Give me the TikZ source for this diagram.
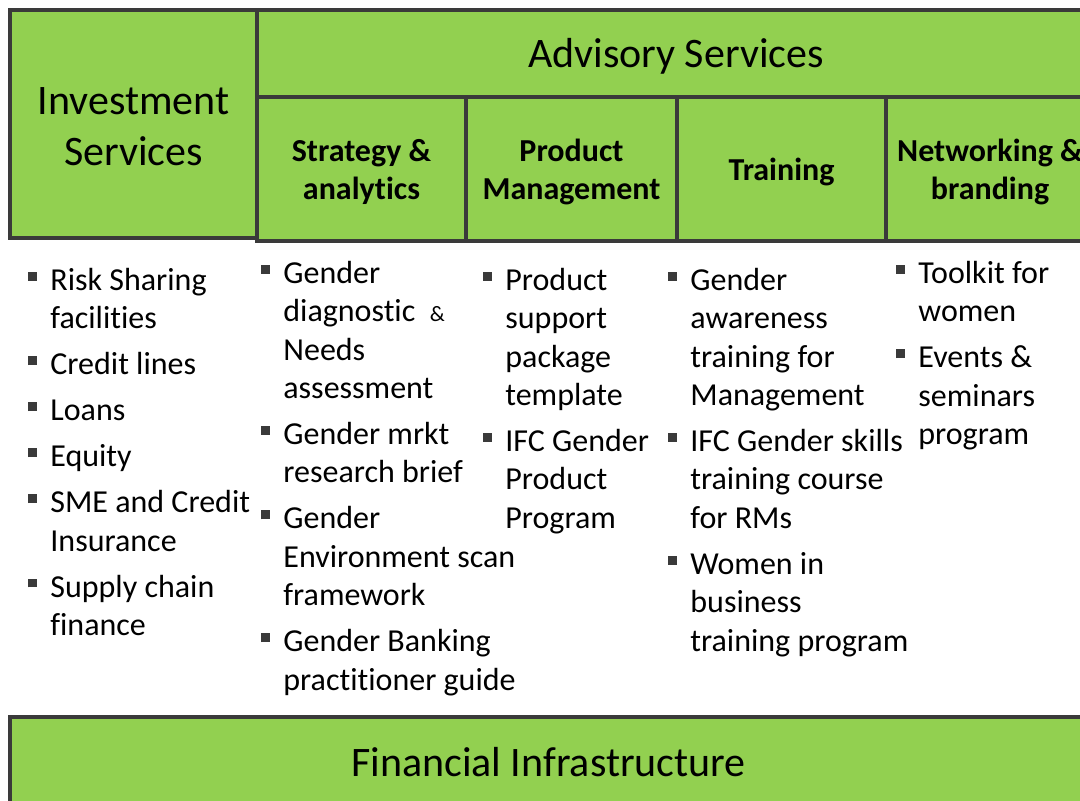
\documentclass[tikz,border=0pt]{standalone}
\usepackage{fontspec}
\setmainfont{Carlito}[Ligatures=NoCommon]
\definecolor{boxgreen}{HTML}{92D050}
\definecolor{edgegray}{HTML}{3A3A3A}
\newcommand{\bsq}{\strut\llap{\textcolor{edgegray}{\rule[4.8pt]{4.4pt}{4.4pt}}\hspace{6.8pt}}}
\tikzset{
  box/.style={fill=boxgreen, draw=edgegray, line width=2pt},
  bighead/.style={font=\fontsize{21}{25.5}\selectfont, align=center, inner sep=0pt},
  subhead/.style={font=\bfseries\fontsize{16}{19}\selectfont, align=center, inner sep=0pt},
  col/.style={font=\fontsize{16}{19.2}\selectfont, align=left, anchor=north west, inner sep=0pt}
}

\begin{document}
\begin{tikzpicture}[x=0.5pt,y=-0.5pt]
\clip (0,0) rectangle (1080,800);
\fill[white] (0,0) rectangle (1080,800);
% boxes
\draw[box] (10,10) rectangle (257,238);
\draw[box] (257,10) rectangle (1110,97);
\foreach \a/\b in {257/466,466/677,677/886,886/1110}
  \draw[box] (\a,97) rectangle (\b,241);
\draw[box] (10,717) rectangle (1110,830);

% headings
\node[bighead] (inv) at (133.5,127) {Investment\\Services};
\node[bighead] (adv) at (676,56) {Advisory Services};
\node[subhead] (strat) at (361.5,172) {Strategy \&\\analytics};
\node[subhead] (prod) at (571.5,172) {Product\\Management};
\node[subhead] (train) at (781.5,172) {Training};
\node[subhead] (netw) at (990,172) {Networking \&\\branding};
\node[bighead] (fin) at (548.5,762) {Financial Infrastructure};

% bullet lists, first line starts with a strut
\node[col] (invlist) at (50,263) {\bsq Risk Sharing\\facilities\\[3.8pt]
  \bsq Credit lines\\[3.8pt]
  \bsq Loans\\[3.8pt]
  \bsq Equity\\[3.8pt]
  \bsq SME and Credit\\Insurance\\[3.8pt]
  \bsq Supply chain\\finance};
\node[col] (stratlist) at (283,256) {\bsq Gender\\diagnostic\ \ {\fontsize{11}{12}\selectfont\&}\\Needs\\assessment\\[3.8pt]
  \bsq Gender mrkt\\research brief\\[3.8pt]
  \bsq Gender\\Environment scan\\framework\\[3.8pt]
  \bsq Gender Banking\\practitioner guide};
\node[col] (prodlist) at (505,263) {\bsq Product\\support\\package\\template\\[3.8pt]
  \bsq IFC Gender\\Product\\Program};
\node[col] (trainlist) at (690,263) {\bsq Gender\\awareness\\training for\\Management\\[3.8pt]
  \bsq IFC Gender skills\\training course\\for RMs\\[3.8pt]
  \bsq Women in\\business\\training program};
\node[col] (netwlist) at (918,256) {\bsq Toolkit for\\women\\[3.8pt]
  \bsq Events \&\\seminars\\program};
\end{tikzpicture}
\end{document}
